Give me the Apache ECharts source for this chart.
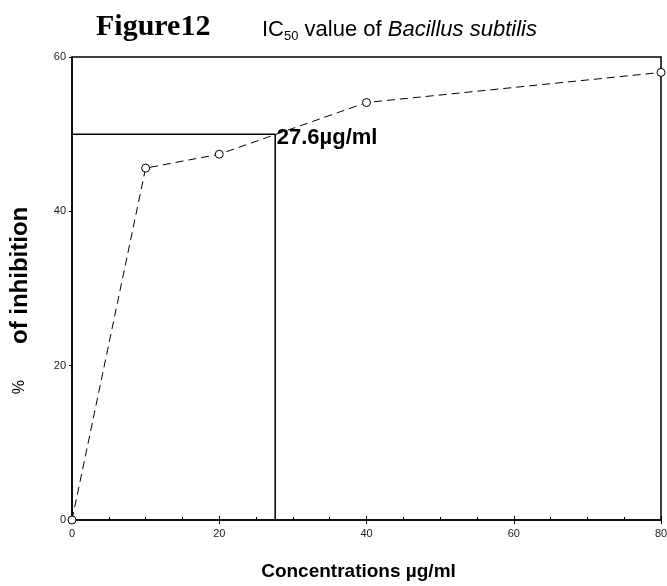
<!DOCTYPE html>
<html>
<head>
<meta charset="utf-8">
<script src="https://cdn.jsdelivr.net/npm/echarts@6/dist/echarts.min.js"></script>
<style>
  html, body { margin: 0; padding: 0; background: #fff; }
  #chart { width: 667px; height: 586px; }
</style>
</head>
<body>
<div id="chart"></div>
<script>
// 数据
const concentrations = [0, 10, 20, 40, 80]
const inhibition = [0, 45.6, 47.4, 54.1, 58.0]
const ic50Value = 27.6
const ic50Level = 50
const xTicks = [0, 20, 40, 60, 80]
const yTicks = [0, 20, 40, 60]

const chart = echarts.init(document.getElementById('chart'))

const sans = '"Liberation Sans", Arial, sans-serif'

const options = {
  animation: false,
  title: [
    {
      text: 'Figure12',
      left: 91,
      top: 7,
      textStyle: { fontFamily: '"Liberation Serif", "Times New Roman", serif', fontWeight: 'bold', fontSize: 30, color: '#000' },
    },
    {
      text: '{n|IC}{s|50}{n| value of }{i|Bacillus subtilis}',
      left: 257,
      top: 12,
      textStyle: {
        rich: {
          n: { fontFamily: sans, fontSize: 22, fontWeight: 'normal', color: '#000' },
          s: { fontFamily: sans, fontSize: 13, fontWeight: 'normal', color: '#000', verticalAlign: 'bottom', padding: [13, 0, 0, 0] },
          i: { fontFamily: sans, fontSize: 22, fontWeight: 'normal', fontStyle: 'italic', color: '#000' },
        },
      },
    },
  ],
  grid: {
    left: 72,
    right: 6,
    top: 57,
    bottom: 66,
    outerBoundsMode: 'none',
    show: true,
    borderColor: '#000',
    borderWidth: 1.5,
  },
  xAxis: [
    {
      type: 'value',
      min: 0,
      max: 80,
      interval: 20,
      name: 'Concentrations µg/ml',
      nameLocation: 'middle',
      nameGap: 42,
      nameTextStyle: { fontFamily: sans, fontWeight: 'bold', fontSize: 19, color: '#000', padding: [0, 16, 0, 0] },
      axisLine: { lineStyle: { color: '#000', width: 1.5 } },
      axisTick: { inside: true, length: 4, lineStyle: { color: '#000' } },
      minorTick: { show: true, splitNumber: 4, length: 3, lineStyle: { color: '#000' } },
      axisLabel: { color: '#222', fontFamily: sans, fontSize: 11, margin: 8, customValues: xTicks },
      splitLine: { show: false },
    },
    {
      type: 'value',
      position: 'top',
      min: 0,
      max: 80,
      interval: 20,
      axisLine: { show: false },
      axisTick: { inside: true, length: 4, lineStyle: { color: '#000' } },
      axisLabel: { show: false },
      splitLine: { show: false },
    },
  ],
  yAxis: [
    {
      type: 'value',
      min: 0,
      max: 60,
      interval: 20,
      name: '{p|%}{b|of inhibition}',
      nameLocation: 'middle',
      nameGap: 40,
      nameRotate: 90,
      nameTextStyle: {
        rich: {
          p: { fontFamily: sans, fontSize: 16, color: '#000', padding: [0, 36, 0, 0] },
          b: { fontFamily: sans, fontWeight: 'bold', fontSize: 24, color: '#000', padding: [0, 24, 0, 0] },
        },
      },
      axisLine: { lineStyle: { color: '#000', width: 1.5 } },
      axisTick: { length: 3, lineStyle: { color: '#000' } },
      axisLabel: { color: '#222', fontFamily: sans, fontSize: 11, margin: 6, customValues: yTicks },
      splitLine: { show: false },
    },
    {
      type: 'value',
      position: 'right',
      min: 0,
      max: 60,
      interval: 20,
      axisLine: { show: false },
      axisTick: { inside: true, length: 3, lineStyle: { color: '#000' } },
      axisLabel: { show: false },
      splitLine: { show: false },
    },
  ],
  series: [
    {
      name: 'IC50',
      type: 'line',
      data: [[0, ic50Level], [ic50Value, ic50Level], [ic50Value, 0]],
      symbol: 'none',
      lineStyle: { color: '#000', width: 1.5 },
      z: 1,
      markPoint: {
        symbol: 'circle',
        symbolSize: 1,
        data: [{ coord: [ic50Value, ic50Level] }],
        itemStyle: { color: 'transparent' },
        label: {
          show: true,
          position: 'right',
          distance: 1,
          offset: [0, 4],
          formatter: ic50Value + 'µg/ml',
          fontFamily: sans,
          fontWeight: 'bold',
          fontSize: 22,
          color: '#000',
        },
      },
    },
    {
      name: 'inhibition',
      type: 'line',
      data: concentrations.map((c, i) => [c, inhibition[i]]),
      symbol: 'circle',
      symbolSize: 8,
      itemStyle: { color: '#fff', borderColor: '#000', borderWidth: 1 },
      lineStyle: { color: '#000', width: 1, type: [8, 5] },
      z: 2,
    },
  ],
}

chart.setOption(options)
</script>
</body>
</html>
